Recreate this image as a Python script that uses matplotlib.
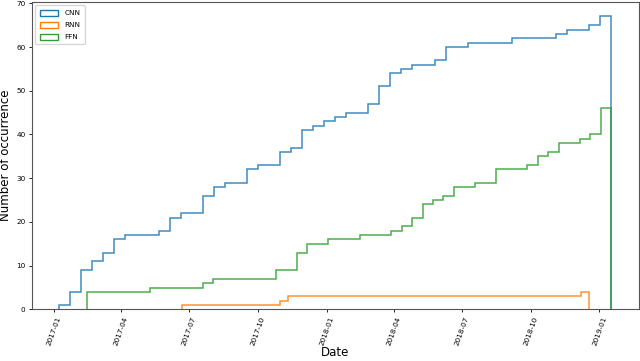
import matplotlib
matplotlib.use("Agg")
import matplotlib.pyplot as plt
import matplotlib.dates as mdates
from matplotlib.patches import Patch
import numpy as np

# cumulative number of occurrences per bin (50 bins per model)
cnn_counts = [1, 4, 9, 11, 13, 16, 17, 17, 17, 18,
              21, 22, 22, 26, 28, 29, 29, 32, 33, 33,
              36, 37, 41, 42, 43, 44, 45, 45, 47, 51,
              54, 55, 56, 56, 57, 60, 60, 61, 61, 61,
              61, 62, 62, 62, 62, 63, 64, 64, 65, 67]
rnn_counts = [1, 1, 1, 1, 1, 1, 1, 1, 1, 1,
              1, 1, 2, 3, 3, 3, 3, 3, 3, 3,
              3, 3, 3, 3, 3, 3, 3, 3, 3, 3,
              3, 3, 3, 3, 3, 3, 3, 3, 3, 3,
              3, 3, 3, 3, 3, 3, 3, 3, 3, 4]
ffn_counts = [4, 4, 4, 4, 4, 4, 5, 5, 5, 5,
              5, 6, 7, 7, 7, 7, 7, 7, 9, 9,
              13, 15, 15, 16, 16, 16, 17, 17, 17, 18,
              19, 21, 24, 25, 26, 28, 28, 29, 29, 32,
              32, 32, 33, 35, 36, 38, 38, 39, 40, 46]

# first and last date of each model's data
cnn_range = ["2017-01-08 14:00", "2019-01-16 14:00"]
rnn_range = ["2017-06-21 22:00", "2018-12-17 17:00"]
ffn_range = ["2017-02-15 00:00", "2019-01-16 14:00"]

labels = ["CNN", "RNN", "FFN"]
colors = ["tab:blue", "tab:orange", "tab:green"]


def bin_edges(date_range, n):
    start, end = mdates.datestr2num(date_range)
    return np.linspace(start, end, n + 1)


def main():
    fig = plt.figure(figsize=(6.4, 3.61), dpi=100)
    ax = fig.add_axes([0.0495, 0.143, 0.9485, 0.852])

    handles = []
    for counts, rng, label, c in zip([cnn_counts, rnn_counts, ffn_counts],
                                     [cnn_range, rnn_range, ffn_range],
                                     labels, colors):
        edges = bin_edges(rng, len(counts))
        ax.stairs(counts, edges, baseline=0, color=c, linewidth=1.1, alpha=0.85)
        handles.append(Patch(facecolor="none", edgecolor=c, linewidth=1.0,
                             label=label))

    ax.xaxis.set_major_locator(mdates.MonthLocator(bymonth=[1, 4, 7, 10]))
    ax.xaxis.set_major_formatter(mdates.DateFormatter("%Y-%m"))
    ax.set_ylim(0, 70.35)

    ax.tick_params(axis="both", labelsize=5.2, length=2.5, width=0.6, pad=2)
    plt.setp(ax.get_xticklabels(), rotation=70)

    for sp in ax.spines.values():
        sp.set_linewidth(0.8)
        sp.set_color("#555555")

    ax.set_xlabel("Date", fontsize=8.5, labelpad=0)
    ax.set_ylabel("Number of occurrence", fontsize=8.5, labelpad=3)

    ax.legend(handles=handles, loc="upper left", fontsize=5.2,
              handlelength=2.6, handleheight=0.9, borderpad=0.6,
              labelspacing=0.75, handletextpad=0.8)

    fig.savefig("out.png", dpi=100)


if __name__ == "__main__":
    main()
